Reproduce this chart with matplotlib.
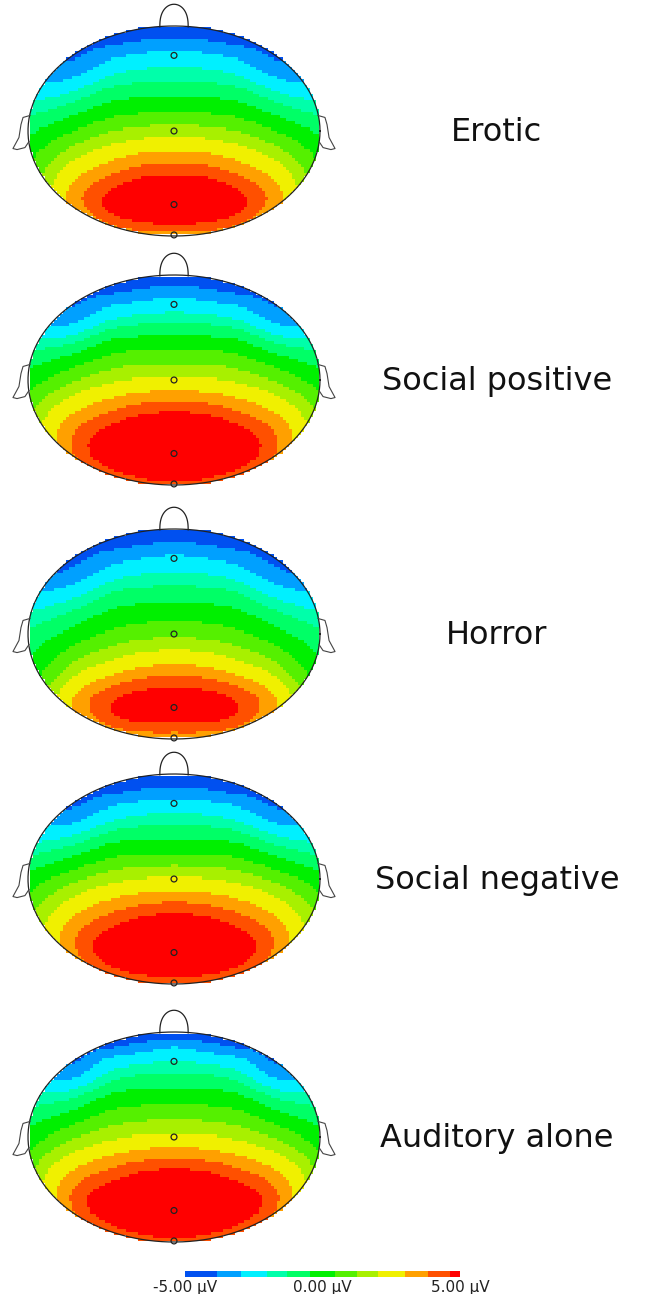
import numpy as np
import matplotlib
matplotlib.use("Agg")
import matplotlib.pyplot as plt
from matplotlib.colors import ListedColormap, BoundaryNorm
from matplotlib.cm import ScalarMappable

# conditions shown top to bottom
CONDITIONS = ["Erotic", "Social positive", "Horror", "Social negative", "Auditory alone"]

# midline + left hemisphere electrodes, normalised head coordinates
# (x right, y towards nose); right side mirrors the left
ELECTRODES = ["Fpz", "AFz", "Fz", "FCz", "Cz", "CPz", "Pz", "Oz",
              "Fp1", "AF7", "F1", "F3", "F7", "FC1", "FC3", "FT7",
              "C1", "C3", "T7", "CP1", "CP3", "TP7", "P1", "P3", "P7"]
ELEC_X = [0, 0, 0, 0, 0, 0, 0, 0,
          -0.42, -0.68, -0.22, -0.45, -0.78, -0.22, -0.45, -0.88,
          -0.22, -0.45, -0.98, -0.22, -0.45, -0.85, -0.22, -0.45, -0.70]
ELEC_Y = [0.98, 0.86, 0.72, 0.36, 0.0, -0.35, -0.70, -0.99,
          0.90, 0.70, 0.74, 0.75, 0.55, 0.37, 0.38, 0.35,
          0.0, 0.0, 0.0, -0.36, -0.38, -0.40, -0.71, -0.72, -0.68]

# amplitudes in microvolts
EROTIC = [-4.4, -3.7, -2.7, -0.7, 1.6, 4.15, 5.6, 3.6,
          -4.4, -3.9, -3.0, -3.45, -3.4, -0.8, -1.1, -2.3,
          1.5, 1.15, -0.6, 4.05, 3.5, 1.6, 5.45, 4.8, 3.3]
SOCIAL_POSITIVE = [-4.3, -3.5, -2.5, 0.0, 2.3, 5.0, 6.0, 4.4,
                   -4.3, -3.8, -2.85, -3.3, -3.2, -0.1, -0.42, -1.6,
                   2.19, 1.84, 0.1, 4.87, 4.33, 2.4, 5.85, 5.23, 3.8]
HORROR = [-4.4, -3.8, -2.8, -0.8, 1.05, 3.45, 5.3, 3.3,
          -4.4, -4.0, -3.15, -3.6, -3.7, -0.91, -1.27, -2.6,
          0.94, 0.6, -1.1, 3.3, 2.8, 0.9, 5.15, 4.6, 3.0]
SOCIAL_NEGATIVE = [-4.4, -3.8, -2.6, -0.3, 2.2, 4.8, 5.9, 4.0,
                   -4.4, -3.9, -2.94, -3.37, -3.2, -0.4, -0.72, -1.9,
                   2.09, 1.74, 0.0, 4.67, 4.13, 2.2, 5.74, 5.1, 3.6]
AUDITORY_ALONE = [-4.4, -3.0, -2.0, 0.2, 2.3, 5.0, 6.0, 4.3,
                  -4.2, -3.8, -2.36, -2.87, -3.0, 0.09, -0.24, -1.5,
                  2.19, 1.82, 0.0, 4.87, 4.33, 2.4, 5.85, 5.23, 3.8]
VALUES = [EROTIC, SOCIAL_POSITIVE, HORROR, SOCIAL_NEGATIVE, AUDITORY_ALONE]

MARKED = ["Fz", "Cz", "Pz", "Oz"]

BAND_EDGES = [-5.0, -3.84, -2.96, -2.02, -1.29, -0.45, 0.45, 1.25, 2.02, 3.0, 3.84, 4.64, 5.0]
BAND_COLORS = ["#0050f0", "#00a0ff", "#00f0ff", "#00ffaa", "#00ff66", "#00f000",
               "#55f000", "#a8f000", "#f0f000", "#ffa000", "#ff5000", "#ff0000"]

# layout in pixels
CZ_ROWS = [131, 380, 634, 879, 1137]
HEAD_CX, HALF_W, HALF_H = 174, 146, 105
W_PX, H_PX = 653, 1294

cmap = ListedColormap(BAND_COLORS)
cmap.set_bad((1, 1, 1, 0))
cmap.set_over(BAND_COLORS[-1])
cmap.set_under(BAND_COLORS[0])
norm = BoundaryNorm(BAND_EDGES, cmap.N)


def green(r):
    with np.errstate(divide="ignore", invalid="ignore"):
        g = r ** 2 * (np.log(r) - 1.0)
    return np.where(r > 0, g, 0.0)


def biharmonic(xe, ye, ve, xg, yg):
    # v4-style biharmonic spline, as used for scalp maps
    d = np.hypot(xe[:, None] - xe[None, :], ye[:, None] - ye[None, :])
    wts = np.linalg.solve(green(d), ve)
    dg = np.hypot(xg[..., None] - xe, yg[..., None] - ye)
    return green(dg) @ wts


half_x = np.array(ELEC_X, dtype=float)
half_y = np.array(ELEC_Y, dtype=float)
side = half_x < 0
xe = np.concatenate([half_x, -half_x[side]])
ye = np.concatenate([half_y, half_y[side]])

nx, ny = 98, 70
gx = np.linspace(-1, 1, nx)
gy = np.linspace(-1, 1, ny)
GX, GY = np.meshgrid(gx, gy)
outside = GX ** 2 + GY ** 2 > 1.0

t = np.linspace(0, 2 * np.pi, 400)
nose_t = np.linspace(0, np.pi, 60)
ear_x = [-0.986, -1.034, -1.048, -1.062, -1.103, -1.075, -1.021, -0.993]
ear_y = [0.148, 0.129, 0.062, -0.062, -0.167, -0.177, -0.158, -0.100]

fig = plt.figure(figsize=(W_PX / 100, H_PX / 100), dpi=100)

for cond, vals, cz in zip(CONDITIONS, VALUES, CZ_ROWS):
    left = (HEAD_CX - 1.15 * HALF_W) / W_PX
    width = 2.3 * HALF_W / W_PX
    bottom = 1 - (cz + 1.1 * HALF_H) / H_PX
    height = 2.4 * HALF_H / H_PX
    ax = fig.add_axes([left, bottom, width, height])
    ax.set_xlim(-1.15, 1.15)
    ax.set_ylim(-1.1, 1.3)
    ax.axis("off")

    v = np.array(vals, dtype=float)
    ve = np.concatenate([v, v[side]])
    field = biharmonic(xe, ye, ve, GX, GY)
    field = np.ma.masked_where(outside, field)
    ax.imshow(field, extent=[-1 - 1 / nx, 1 + 1 / nx, -1 - 1 / ny, 1 + 1 / ny],
              origin="lower", cmap=cmap, norm=norm, interpolation="nearest",
              aspect="auto", zorder=1)

    # head outline, nose, ears
    ax.plot(np.cos(t), np.sin(t), color="#222222", lw=0.9, zorder=3)
    nose_x = 0.097 * np.cos(nose_t)
    nose_y = 0.992 + 0.215 * np.sin(nose_t) ** 0.8
    ax.plot(nose_x, nose_y, color="#222222", lw=0.9, zorder=3)
    ax.plot(ear_x, ear_y, color="#444444", lw=0.8, zorder=3)
    ax.plot([-e for e in ear_x], ear_y, color="#444444", lw=0.8, zorder=3)

    idx = [ELECTRODES.index(n) for n in MARKED]
    ax.scatter(half_x[idx], half_y[idx], s=18, facecolors="none",
               edgecolors="#222222", linewidths=0.9, zorder=4)

    fig.text(497 / W_PX, 1 - (cz + 10) / H_PX, cond, ha="center", va="baseline",
             fontsize=23, color="#111111", family="DejaVu Sans")

# colour bar
cax = fig.add_axes([185 / W_PX, 1 - 1277 / H_PX, 275 / W_PX, 6 / H_PX])
sm = ScalarMappable(norm=norm, cmap=cmap)
cb = fig.colorbar(sm, cax=cax, orientation="horizontal", spacing="proportional",
                  boundaries=BAND_EDGES)
cb.outline.set_visible(False)
cb.minorticks_off()
cb.set_ticks([-5, 0, 5])
cb.set_ticklabels(["-5.00 µV", "0.00 µV", "5.00 µV"])
cax.tick_params(which="both", length=0, pad=2, labelsize=11, colors="#222222")

fig.savefig("out.png", dpi=100)
